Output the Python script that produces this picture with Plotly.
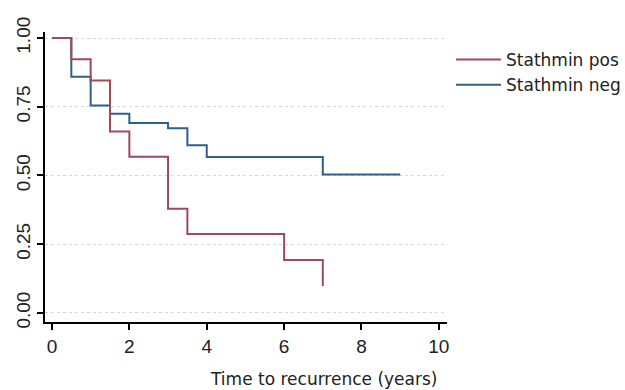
import plotly.graph_objects as go

pos_time = [0, 0.5, 1, 1.5, 2, 3, 3.5, 6, 7]
pos_surv = [1.0, 0.923, 0.846, 0.66, 0.568, 0.379, 0.287, 0.193, 0.098]
neg_time = [0, 0.5, 1, 1.5, 2, 3, 3.5, 4, 7, 9]
neg_surv = [1.0, 0.859, 0.755, 0.725, 0.691, 0.672, 0.61, 0.567, 0.504, 0.504]
x_ticks = [0, 2, 4, 6, 8, 10]
y_ticks = [0, 0.25, 0.5, 0.75, 1.0]
y_labels = ["0.00", "0.25", "0.50", "0.75", "1.00"]

RED = "#a14a57"
BLUE = "#2f5f8c"
GRID = "#cddae4"

fig = go.Figure()
fig.add_trace(go.Scatter(x=neg_time, y=neg_surv, mode="lines", line_shape="hv",
                         line=dict(color=BLUE, width=2), name="Stathmin neg", legendrank=2))
fig.add_trace(go.Scatter(x=pos_time, y=pos_surv, mode="lines", line_shape="hv",
                         line=dict(color=RED, width=2), name="Stathmin pos", legendrank=1))

fig.update_layout(
    width=625, height=390,
    margin=dict(l=45, r=178, t=32, b=68, autoexpand=False),
    paper_bgcolor="white", plot_bgcolor="white",
    font=dict(family="DejaVu Sans", color="#222222"),
    legend=dict(x=1.01, y=1 - (72.5 - 32) / 290, xanchor="left", yanchor="middle",
                font=dict(size=17, family="DejaVu Sans"), itemwidth=45,
                bgcolor="rgba(0,0,0,0)", tracegroupgap=0),
    xaxis=dict(range=[-0.18, 10.21], tickvals=x_ticks, showgrid=False, zeroline=False,
               showline=True, linecolor="black", linewidth=1.5,
               ticks="outside", ticklen=6, tickwidth=1.5, tickcolor="black",
               tickfont=dict(size=19, family="Liberation Sans", color="#222222")),
    yaxis=dict(range=[-0.033, 1.022], tickvals=y_ticks, ticktext=y_labels, tickangle=-90,
               showgrid=True, gridcolor=GRID, griddash="dot", gridwidth=1, zeroline=False,
               showline=True, linecolor="black", linewidth=1.5,
               ticks="outside", ticklen=6, tickwidth=1.5, tickcolor="black",
               tickfont=dict(size=19, family="Liberation Sans", color="#222222")),
    annotations=[dict(text="Time to recurrence (years)", xref="paper", yref="paper",
                      x=(323 - 45) / 402, y=-(379 - 322) / 290, xanchor="center", yanchor="middle",
                      showarrow=False, font=dict(size=17, family="DejaVu Sans", color="#222222"))],
)

fig.write_html("out.html", config={"displayModeBar": False},
               post_script="document.body.style.margin='0';")
